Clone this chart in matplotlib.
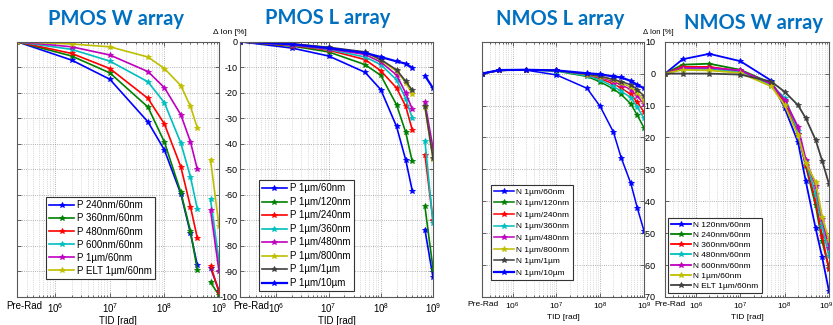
import numpy as np
import matplotlib
matplotlib.use('Agg')
import matplotlib.pyplot as plt
from matplotlib.ticker import FixedLocator, FixedFormatter, LogLocator, NullFormatter
import matplotlib.transforms as mtransforms

plt.rcParams['font.family'] = ['Liberation Sans', 'DejaVu Sans']
plt.rcParams['mathtext.default'] = 'regular'
plt.rcParams['axes.unicode_minus'] = False

# ---------------- data ----------------
PRE_RAD = 2e5
x_tick_values = [PRE_RAD, 1e6, 1e7, 1e8, 1e9]
x_tick_labels = ['Pre-Rad', '$10^{6}$', '$10^{7}$', '$10^{8}$', '$10^{9}$']

# PMOS: pre-rad, irradiation steps ... ; the last two points form a separate segment
tid_pmos = [PRE_RAD, 2e6, 1e7, 5e7, 1e8, 2e8, 3e8, 4e8, 7e8, 1e9]
pmos_break = 8

pmos_w_labels = ['P 240nm/60nm', 'P 360nm/60nm', 'P 480nm/60nm', 'P 600nm/60nm',
                 'P 1µm/60nm', 'P ELT 1µm/60nm']
pmos_w_240 = [0, -7.2, -14.7, -31.4, -42.4, -59.6, -75.0, -87.4, -88.5, -97.6]
pmos_w_360 = [0, -5.6, -12.2, -25.6, -39.3, -59.0, -74.2, -89.3, -94.3, -99.3]
pmos_w_480 = [0, -4.6, -10.5, -22.2, -32.2, -49.0, -64.6, -76.8, -87.8, -98.0]
pmos_w_600 = [0, -3.0, -7.6, -15.7, -23.9, -39.7, -52.9, -65.4, -61.8, -85.9]
pmos_w_1u = [0, -2.0, -5.2, -11.7, -18.0, -28.6, -39.2, -49.9, -66.1, -89.8]
pmos_w_elt = [0, -0.9, -2.0, -6.0, -10.5, -17.2, -25.3, -33.7, -46.2, -72.3]

pmos_l_labels = ['P 1µm/60nm', 'P 1µm/120nm', 'P 1µm/240nm', 'P 1µm/360nm',
                 'P 1µm/480nm', 'P 1µm/800nm', 'P 1µm/1µm', 'P 1µm/10µm']
pmos_l_60 = [0, -2.5, -5.6, -12.0, -18.8, -33.2, -46.3, -58.3, -73.6, -92.3]
pmos_l_120 = [0, -1.7, -4.0, -9.0, -13.2, -24.7, -35.5, -46.9, -64.5, -88.9]
pmos_l_240 = [0, -1.5, -3.3, -7.0, -11.4, -18.1, -25.3, -34.5, -44.2, -70.0]
pmos_l_360 = [0, -1.3, -3.0, -6.0, -9.0, -14.9, -22.3, -29.9, -38.8, -71.0]
pmos_l_480 = [0, -1.2, -2.8, -5.0, -8.0, -13.0, -20.1, -26.4, -23.8, -41.7]
pmos_l_800 = [0, -0.9, -2.4, -4.2, -7.3, -11.5, -16.0, -20.6, -25.7, -46.0]
pmos_l_1u = [0, -0.8, -2.2, -4.0, -7.0, -11.0, -15.5, -19.0, -25.2, -45.5]
pmos_l_10u = [0, -1.0, -2.5, -4.4, -6.0, -7.7, -8.6, -10.2, -13.3, -18.2]

# NMOS
tid_nmos = [PRE_RAD, 5e5, 2e6, 1e7, 5e7, 1e8, 2e8, 3e8, 5e8, 7e8, 1e9]

nmos_l_labels = ['N 1µm/60nm', 'N 1µm/120nm', 'N 1µm/240nm', 'N 1µm/360nm',
                 'N 1µm/480nm', 'N 1µm/800nm', 'N 1µm/1µm', 'N 1µm/10µm']
nmos_l_60 = [0, 1.1, 1.1, -0.4, -4.6, -10.3, -18.3, -26.3, -34.4, -42.0, -49.3]
nmos_l_120 = [0, 1.0, 1.2, 0.8, -0.9, -2.6, -4.8, -6.5, -9.5, -13.0, -17.0]
nmos_l_240 = [0, 1.0, 1.2, 1.0, -0.5, -1.6, -3.2, -4.5, -6.5, -9.0, -12.0]
nmos_l_360 = [0, 1.0, 1.2, 0.9, -0.7, -2.0, -4.0, -5.5, -7.5, -10.5, -14.0]
nmos_l_480 = [0, 1.0, 1.2, 1.0, -0.3, -1.2, -2.5, -3.5, -5.0, -7.0, -9.5]
nmos_l_800 = [0, 1.0, 1.2, 1.0, -0.3, -1.0, -2.0, -3.0, -4.2, -6.0, -8.5]
nmos_l_1u = [0, 1.0, 1.2, 1.0, -0.2, -0.8, -1.8, -2.5, -3.5, -5.0, -7.0]
nmos_l_10u = [0, 1.1, 1.2, 1.0, 0.1, -0.2, -0.9, -1.2, -2.3, -3.5, -4.6]

nmos_w_labels = ['N 120nm/60nm', 'N 240nm/60nm', 'N 360nm/60nm', 'N 480nm/60nm',
                 'N 600nm/60nm', 'N 1µm/60nm', 'N ELT 1µm/60nm']
nmos_w_120 = [0, 4.5, 6.2, 3.9, -2.2, -10.8, -21.5, -33.8, -48.5, -57.5, -68.2]
nmos_w_240 = [0, 2.8, 3.1, 1.2, -3.0, -8.5, -19.0, -29.0, -41.3, -52.5, -61.0]
nmos_w_360 = [0, 2.1, 2.1, 0.8, -3.5, -8.8, -18.8, -28.5, -40.0, -51.0, -61.3]
nmos_w_480 = [0, 1.5, 1.5, 0.5, -3.8, -7.5, -18.0, -27.5, -37.7, -47.7, -57.3]
nmos_w_600 = [0, 1.8, 1.8, 1.0, -3.2, -8.3, -16.7, -27.0, -35.2, -45.5, -54.5]
nmos_w_1u = [0, 1.2, 1.0, 0.2, -4.0, -9.9, -19.3, -28.0, -34.0, -45.0, -52.1]
nmos_w_elt = [0, 0.0, 0.0, -0.3, -2.5, -5.7, -9.9, -14.0, -20.8, -27.3, -34.6]

titles = ['PMOS W array', 'PMOS L array', 'NMOS L array', 'NMOS W array']
y_label_text = 'Δ Ion [%]'
x_label_text = 'TID [rad]'

# ---------------- style ----------------
C = [(0, 0, 1), (0, 0.5, 0), (1, 0, 0), (0, 0.75, 0.75), (0.75, 0, 0.75),
     (0.75, 0.75, 0), (0.25, 0.25, 0.25), (0, 0, 1)]
TITLE_COLOR = '#0070C0'

W, H = 833, 325
fig = plt.figure(figsize=(W / 100, H / 100), dpi=100)


def axpos(l, r, t, b):
    return [l / W, (H - b) / H, (r - l) / W, (b - t) / H]


ax2 = fig.add_axes(axpos(240, 433, 41.7, 297), zorder=1)
ax1 = fig.add_axes(axpos(17, 219, 41.7, 297), zorder=2)
ax4 = fig.add_axes(axpos(665, 829, 41.7, 297), zorder=1)
ax3 = fig.add_axes(axpos(482, 644, 41.7, 297), zorder=2)


def plot_series(ax, x, ys, labels, widths, brk=None):
    x = np.asarray(x, float)
    for i, (y, lab) in enumerate(zip(ys, labels)):
        y = np.asarray(y, float)
        if brk is not None:
            xs = np.concatenate([x[:brk], [np.nan], x[brk:]])
            yv = np.concatenate([y[:brk], [np.nan], y[brk:]])
        else:
            xs, yv = x, y
        ax.plot(xs, yv, color=C[i], lw=widths[i], marker='*', ms=4,
                mec=C[i], mew=0.6, label=lab)


def shift_label(lab, dx_px):
    lab.set_transform(lab.get_transform() +
                      mtransforms.ScaledTranslation(dx_px / 100, 0, fig.dpi_scale_trans))


def style_axis(ax, ylim, ystep, show_ylabels, ypad, tick_fs, xlab_fs, pre_off, last_off=0):
    ax.set_xscale('log')
    ax.set_xlim(PRE_RAD, 1e9)
    ax.set_ylim(*ylim)
    ax.xaxis.set_major_locator(FixedLocator(x_tick_values))
    ax.xaxis.set_major_formatter(FixedFormatter(x_tick_labels))
    ax.xaxis.set_minor_locator(LogLocator(base=10, subs=np.arange(2, 10), numticks=30))
    ax.xaxis.set_minor_formatter(NullFormatter())
    ax.set_yticks(np.arange(ylim[0], ylim[1] + 0.1, ystep))
    ax.tick_params(which='both', direction='in', top=True, right=True,
                   width=0.6, color='0.3')
    ax.tick_params(which='major', length=3)
    ax.tick_params(which='minor', length=1.5)
    ax.tick_params(axis='x', labelsize=tick_fs, pad=3)
    ax.tick_params(axis='y', labelleft=show_ylabels, labelsize=6.5, pad=ypad)
    ax.grid(which='major', ls=':', color='0.6', lw=0.6)
    ax.grid(which='minor', axis='x', ls=':', color='0.75', lw=0.5)
    ax.set_xlabel(x_label_text, fontsize=xlab_fs, labelpad=1)
    for s in ax.spines.values():
        s.set_linewidth(0.8)
        s.set_color('0.35')
    labs = ax.get_xticklabels()
    shift_label(labs[0], pre_off)
    if last_off:
        shift_label(labs[-1], last_off)


plot_series(ax1, tid_pmos, [pmos_w_240, pmos_w_360, pmos_w_480, pmos_w_600, pmos_w_1u, pmos_w_elt],
            pmos_w_labels, [1.2] * 6, brk=pmos_break)
plot_series(ax2, tid_pmos, [pmos_l_60, pmos_l_120, pmos_l_240, pmos_l_360, pmos_l_480,
                            pmos_l_800, pmos_l_1u, pmos_l_10u],
            pmos_l_labels, [1.2] * 7 + [1.6], brk=pmos_break)
plot_series(ax3, tid_nmos, [nmos_l_60, nmos_l_120, nmos_l_240, nmos_l_360, nmos_l_480,
                            nmos_l_800, nmos_l_1u, nmos_l_10u],
            nmos_l_labels, [1.1] * 7 + [1.6])
plot_series(ax4, tid_nmos, [nmos_w_120, nmos_w_240, nmos_w_360, nmos_w_480, nmos_w_600,
                            nmos_w_1u, nmos_w_elt],
            nmos_w_labels, [1.3] * 7)

style_axis(ax1, (-100, 0), 10, False, 1.5, 7, 7, 7)
style_axis(ax2, (-100, 0), 10, True, 1.5, 7, 7, 11)
style_axis(ax3, (-70, 10), 10, False, 1.5, 6, 6, 1)
style_axis(ax4, (-70, 10), 10, True, 7, 6, 6, 5, last_off=-3)


def add_legend(ax, x, top, fs, spacing, hl):
    leg = ax.legend(loc='upper left', bbox_to_anchor=(x, top), borderaxespad=0,
                    fontsize=fs, labelspacing=spacing, handlelength=hl,
                    handletextpad=0.3, borderpad=0.35, fancybox=False,
                    framealpha=1, edgecolor='0.2')
    leg.get_frame().set_linewidth(0.8)
    return leg


add_legend(ax1, 0.144, 0.392, 7, 0.32, 2.5)
add_legend(ax2, 0.098, 0.458, 7, 0.36, 2.5)
add_legend(ax3, 0.056, 0.439, 6, 0.45, 2.4)
add_legend(ax4, 0.018, 0.309, 6.0, 0.28, 2.4)

for (xc, yb), t in zip([(116, 25), (327.5, 24.5), (560, 25), (754, 29)], titles):
    fig.text(xc / W, 1 - yb / H, t, ha='center', va='baseline', fontsize=14.5,
             fontweight='bold', color=TITLE_COLOR, family='Lato')

for xc, fs in [(229.5, 6), (658, 5.5)]:
    fig.text(xc / W, 1 - 32 / H, y_label_text, ha='center', va='center', fontsize=fs,
             zorder=5)

fig.savefig('out.png', dpi=100, facecolor='white')
